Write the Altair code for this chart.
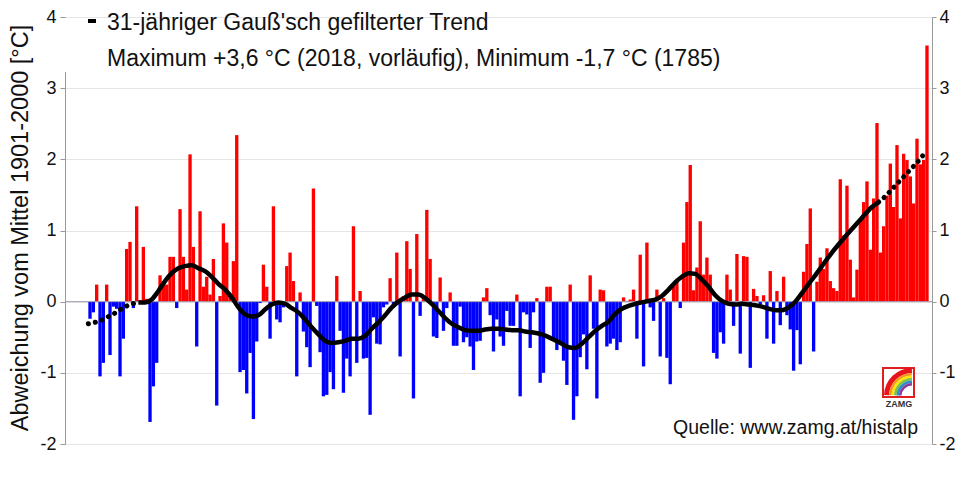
import altair as alt
import pandas as pd

# ---------------- data ----------------
first_year = 1767
anom_1767_1799 = [-0.24, -0.15, 0.24, -1.05, -0.86, 0.24, -0.75, -0.07, -0.10, -1.05,
                  -0.52, 0.74, 0.84, -0.09, 1.34, 0.02, 0.77, 0.04, -1.69, -1.19,
                  -0.86, 0.37, 0.24, 0.24, 0.63, 0.63, -0.09, 1.30, 0.63, 0.17,
                  2.07, 0.77, -0.63]
anom_1800_1849 = [1.27, 0.21, 0.35, 0.10, 0.60, -1.46, 0.08, 1.10, 0.83, 0.12,
                  0.57, 2.34, -0.99, -0.96, -1.29, -0.72, -1.65, -0.56, -0.02, 0.52,
                  0.21, -0.52, 1.34, -0.25, -0.29, -0.08, 0.50, 0.69, 0.29, -1.05,
                  0.13, -0.42, -0.64, -0.92, 1.59, -0.06, -0.71, -1.33, -1.31, -0.99,
                  -1.23, 0.36, -0.41, -1.28, -0.80, -1.05, 1.06, -0.86, 0.15, -0.80]
anom_1850_1899 = [-0.79, -1.59, -0.22, -0.59, -0.60, -0.08, -0.04, 0.33, -0.08, 0.69,
                  -0.77, 0.08, 0.85, 0.46, -1.36, 0.95, -0.20, 0.05, 1.29, 0.60,
                  -0.49, -0.51, 0.34, -0.41, -0.09, 0.13, -0.62, -0.62, -0.07, -0.57,
                  -0.50, -0.63, -0.96, -0.56, -0.55, 0.06, 0.19, -0.19, -0.70, -0.25,
                  -0.49, -0.62, -0.13, -0.34, -0.34, 0.10, -1.33, -0.15, -0.18, -0.65]
anom_1900_1949 = [-0.15, 0.05, -1.14, -1.00, 0.21, 0.21, -0.54, -0.68, -0.56, -0.83,
                  -1.17, 0.24, -1.66, -1.33, -0.78, -0.46, -0.95, 0.37, -0.38, -1.36,
                  0.17, 0.16, -0.63, -0.59, -0.52, -0.68, -0.57, 0.06, 0.01, 0.03,
                  0.17, -0.52, 0.66, -0.91, 0.83, -0.08, -0.27, 0.17, -0.77, 0.05,
                  -0.79, -1.16, 0.24, 0.32, -0.09, 0.83, 1.40, 1.92, 0.16, 0.48]
anom_1950_1999 = [1.13, 0.38, 0.62, 0.38, -0.72, -0.80, -0.43, -0.59, 0.38, 0.17,
                  -0.34, 0.67, -0.73, 0.64, 0.63, -0.93, 0.18, 0.08, -0.04, 0.09,
                  -0.52, 0.43, -0.59, 0.15, -0.33, 0.35, -0.19, -0.39, -0.97, -0.40,
                  -0.88, 0.42, 0.81, 1.31, -0.70, 0.28, 0.62, 0.46, 0.75, 0.29,
                  0.19, 0.15, 1.72, 0.93, 1.63, 0.59, 0.06, 0.45, 1.14, 1.40]
anom_2000_2018 = [1.69, 0.73, 1.45, 2.51, 0.69, 1.06, 1.49, 1.94, 1.33, 2.20,
                  1.17, 2.08, 1.99, 1.76, 1.38, 2.29, 1.93, 1.99, 3.60]

# 31-year Gaussian trend
trend_dot1_years = [1767, 1769, 1771, 1773, 1775, 1777, 1779, 1781, 1782]
trend_dot1 = [-0.31, -0.29, -0.26, -0.21, -0.16, -0.10, -0.05, -0.02, -0.01]
trend_years = [1782, 1784, 1786, 1788, 1790, 1792, 1794, 1796, 1798, 1800, 1802, 1804,
               1806, 1808, 1810, 1812, 1814, 1816, 1818, 1820, 1822, 1824, 1826, 1828,
               1830, 1832, 1834, 1836, 1838, 1840, 1842, 1844, 1846, 1848, 1850, 1852,
               1854, 1856, 1858, 1860, 1862, 1864, 1866, 1868, 1870, 1872, 1874, 1876,
               1878, 1880, 1882, 1884, 1886, 1888, 1890, 1892, 1894, 1896, 1898, 1900,
               1903, 1906, 1909, 1911, 1913, 1915, 1917, 1919, 1921, 1923, 1925, 1927,
               1929, 1931, 1933, 1935, 1937, 1939, 1941, 1943, 1945, 1947, 1949, 1951,
               1953, 1955, 1957, 1959, 1961, 1963, 1965, 1967, 1969, 1971, 1973, 1975,
               1977, 1979, 1981, 1983, 1985, 1987, 1990, 1993, 1996, 1999, 2002, 2004]
trend_vals = [-0.01, -0.01, 0.03, 0.15, 0.29, 0.40, 0.47, 0.50, 0.51, 0.47, 0.43, 0.35,
              0.25, 0.17, 0.06, -0.08, -0.18, -0.21, -0.19, -0.11, -0.04, -0.01, -0.03, -0.09,
              -0.15, -0.25, -0.36, -0.46, -0.55, -0.58, -0.57, -0.55, -0.52, -0.52, -0.48, -0.38,
              -0.29, -0.19, -0.08, 0.00, 0.06, 0.10, 0.10, 0.05, -0.03, -0.13, -0.23, -0.31,
              -0.36, -0.40, -0.41, -0.41, -0.39, -0.38, -0.38, -0.39, -0.40, -0.40, -0.42, -0.43,
              -0.46, -0.52, -0.59, -0.64, -0.65, -0.59, -0.50, -0.41, -0.34, -0.28, -0.17, -0.10,
              -0.06, -0.03, -0.01, 0.01, 0.03, 0.08, 0.17, 0.27, 0.35, 0.40, 0.39, 0.31,
              0.21, 0.09, 0.01, -0.03, -0.04, -0.03, -0.04, -0.05, -0.07, -0.10, -0.12, -0.12,
              -0.08, 0.00, 0.12, 0.25, 0.37, 0.50, 0.69, 0.86, 1.02, 1.18, 1.33, 1.40]
trend_dot2_years = [2004, 2006, 2008, 2010, 2012, 2014, 2016, 2018]
trend_dot2 = [1.40, 1.48, 1.58, 1.68, 1.78, 1.88, 1.98, 2.10]

x_ticks = [1760, 1780, 1800, 1820, 1840, 1860, 1880, 1900, 1920, 1940, 1960, 1980, 2000, 2020]
y_ticks = [-2, -1, 0, 1, 2, 3, 4]

legend_line1 = "31-jähriger Gauß'sch gefilterter Trend"
legend_line2 = "Maximum +3,6 °C (2018, vorläufig), Minimum -1,7 °C (1785)"
y_title = "Abweichung vom Mittel 1901-2000 [°C]"
source_text = "Quelle: www.zamg.at/histalp"

# ---------------- tables ----------------
values = anom_1767_1799 + anom_1800_1849 + anom_1850_1899 + anom_1900_1949 + anom_1950_1999 + anom_2000_2018
years = list(range(first_year, first_year + len(values)))
df = pd.DataFrame({"year": years, "value": values})
df["year_end"] = df["year"] + 1
df["zero"] = 0.0
df["sign"] = ["pos" if v >= 0 else "neg" for v in values]

trend_solid = pd.DataFrame({"year": trend_years, "value": trend_vals})
trend_dots = pd.concat([
    pd.DataFrame({"year": trend_dot1_years, "value": trend_dot1, "seg": "a"}),
    pd.DataFrame({"year": trend_dot2_years, "value": trend_dot2, "seg": "b"}),
])
one = pd.DataFrame({"zero": [0.0]})

W, H = 867, 427
FONT = "Liberation Sans"
xs = alt.Scale(domain=[1760, 2020], nice=False, zero=False)
ys = alt.Scale(domain=[-2, 4], nice=False, zero=False)

x_axis = alt.Axis(values=x_ticks, format="d", title=None, grid=True, gridColor="#e6e6e6",
                  labelFontSize=18, labelFont=FONT, labelColor="#111", labelPadding=8,
                  labelOffset=4, tickSize=5, tickColor="#999", domainColor="#999")
y_axis_left = alt.Axis(values=y_ticks, labelExpr="'' + datum.value", title=None, grid=True,
                       gridColor="#e6e6e6", labelFontSize=18, labelFont=FONT, labelColor="#111",
                       labelPadding=4, tickSize=5, tickColor="#999", domainColor="#999", orient="left")
y_axis_right = alt.Axis(values=y_ticks, labelExpr="'' + datum.value", title=None, grid=False,
                        labelFontSize=18, labelFont=FONT, labelColor="#111", labelPadding=3,
                        tickSize=4, tickColor="#999", domainColor="#999", orient="right")

legend_box = alt.Chart(one).mark_rect(color="white").encode(
    x=alt.value(0), x2=alt.value(670), y=alt.value(1), y2=alt.value(55))

bars = alt.Chart(df).mark_rect().encode(
    x=alt.X("year:Q", scale=xs, axis=x_axis),
    x2="year_end:Q",
    y=alt.Y("value:Q", scale=ys, axis=y_axis_left),
    y2="zero:Q",
    color=alt.Color("sign:N", scale=alt.Scale(domain=["pos", "neg"], range=["#ff0000", "#0000ff"]), legend=None),
)

right_axis = alt.Chart(df).mark_point(opacity=0).encode(
    x=alt.X("year:Q", scale=xs, axis=None),
    y=alt.Y("value:Q", scale=ys, axis=y_axis_right),
)

zero_rule = alt.Chart(one).mark_rule(color="#9c9cb0", strokeWidth=1).encode(
    y=alt.Y("zero:Q", scale=ys, axis=None), x=alt.value(0), x2=alt.value(W))

trend_line = alt.Chart(trend_solid).mark_line(color="black", strokeWidth=4.5, interpolate="monotone").encode(
    x=alt.X("year:Q", scale=xs, axis=None), y=alt.Y("value:Q", scale=ys, axis=None))

trend_dot = alt.Chart(trend_dots).mark_line(color="black", strokeWidth=5, strokeCap="round",
                                            strokeDash=[0.1, 7], interpolate="monotone").encode(
    x=alt.X("year:Q", scale=xs, axis=None), y=alt.Y("value:Q", scale=ys, axis=None), detail="seg:N")

legend_dash = alt.Chart(one).mark_rule(color="black", strokeWidth=4).encode(
    x=alt.value(23), x2=alt.value(31), y=alt.value(4))
legend_t1 = alt.Chart(one).mark_text(text=legend_line1, align="left", baseline="middle",
                                     font=FONT, fontSize=23, color="#111").encode(
    x=alt.value(42), y=alt.value(5.5))
legend_t2 = alt.Chart(one).mark_text(text=legend_line2, align="left", baseline="middle",
                                     font=FONT, fontSize=23, color="#111").encode(
    x=alt.value(42), y=alt.value(41.5))

ytitle = alt.Chart(one).mark_text(text=y_title, angle=270, align="center", baseline="middle",
                                  font=FONT, fontSize=23.5, color="#111").encode(
    x=alt.value(-44), y=alt.value(211))

source = alt.Chart(one).mark_text(text=source_text, align="right", baseline="middle",
                                  font=FONT, fontSize=19.5, color="#111").encode(
    x=alt.value(853), y=alt.value(411))

# ZAMG logo (square with rainbow arcs)
logo_box = alt.Chart(one).mark_rect(fill="white", stroke="#e02020", strokeWidth=2).encode(
    x=alt.value(818), x2=alt.value(849), y=alt.value(351), y2=alt.value(380))
rainbow_cols = ["#e8141c", "#f7941d", "#ffe400", "#7cc242", "#2e8bd0", "#8e3a97"]
rainbow_outer = [28, 23, 20.5, 18, 15.5, 13]
rainbow_inner = [23, 20.5, 18, 15.5, 13, 10.5]
arcs = []
for c, ro, ri in zip(rainbow_cols, rainbow_outer, rainbow_inner):
    arcs.append(alt.Chart(one).mark_arc(color=c, radius=ro, radius2=ri, theta=4.75, theta2=6.28).encode(
        x=alt.value(847), y=alt.value(379)))
logo_text = alt.Chart(one).mark_text(text="ZAMG", font=FONT, fontSize=9, fontWeight="bold",
                                     color="#333", align="center", baseline="middle").encode(
    x=alt.value(834), y=alt.value(387))

chart = alt.layer(
    legend_box, bars, zero_rule, trend_line, trend_dot, right_axis,
    legend_dash, legend_t1, legend_t2, ytitle, source, logo_box, *arcs, logo_text
).resolve_axis(y="independent").properties(
    width=W, height=H,
    autosize=alt.AutoSizeParams(type="none"),
    padding={"left": 57, "top": 9, "right": 23, "bottom": 30},
).configure_view(stroke=None).configure(background="white")

chart.save("out.html", embed_options={"renderer": "svg", "actions": False})
